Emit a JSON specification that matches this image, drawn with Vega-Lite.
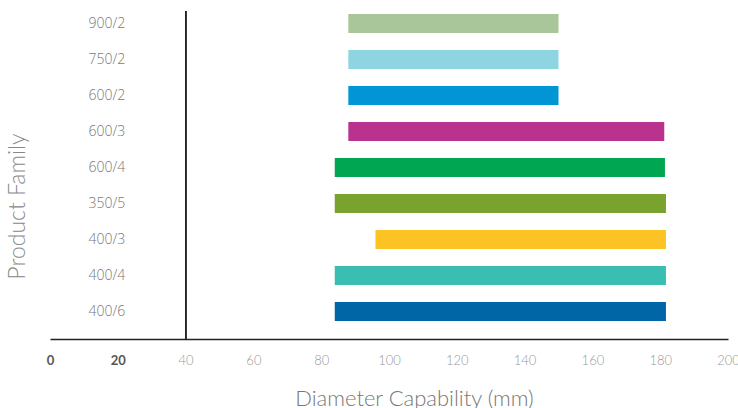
{
  "$schema": "https://vega.github.io/schema/vega-lite/v6.json",
  "autosize": "none",
  "width": 678,
  "height": 328,
  "padding": {"left": 50, "top": 11, "right": 10, "bottom": 69},
  "background": "white",
  "config": {"view": {"stroke": null}, "font": "Lato"},
  "data": {
    "values": [
      {"family": "900/2", "start": 88, "end": 150},
      {"family": "750/2", "start": 88, "end": 150},
      {"family": "600/2", "start": 88, "end": 150},
      {"family": "600/3", "start": 88, "end": 181.2},
      {"family": "600/4", "start": 84, "end": 181.4},
      {"family": "350/5", "start": 84, "end": 181.7},
      {"family": "400/3", "start": 96, "end": 181.7},
      {"family": "400/4", "start": 84, "end": 181.7},
      {"family": "400/6", "start": 84, "end": 181.7}
    ]
  },
  "layer": [
    {
      "mark": {"type": "rule", "color": "#222", "strokeWidth": 1.2},
      "encoding": {"x": {"datum": 40, "type": "quantitative"}}
    },
    {
      "mark": {"type": "bar"},
      "encoding": {
        "y": {
          "field": "family",
          "type": "nominal",
          "sort": null,
          "scale": {"paddingInner": 0.4722, "paddingOuter": 0.2917, "align": 0.143},
          "axis": {
            "title": "Product Family",
            "domain": false,
            "ticks": false,
            "tickSize": 0,
            "labelPadding": -38,
            "labelAlign": "left",
            "labelBaseline": "middle",
            "labelFont": "Open Sans",
            "labelFontSize": 14,
            "labelFontWeight": 300,
            "labelColor": "#777",
            "titleFontSize": 23,
            "titleFontWeight": 300,
            "titleColor": "#888",
            "titleX": -33,
            "titleY": 195,
            "titleAngle": 270,
            "titleAlign": "center",
            "titleBaseline": "middle"
          }
        },
        "x": {
          "field": "start",
          "type": "quantitative",
          "scale": {"domain": [0, 200], "nice": false, "zero": false},
          "axis": {
            "values": [0, 20, 40, 60, 80, 100, 120, 140, 160, 180, 200],
            "grid": false,
            "ticks": false,
            "tickSize": 0,
            "domainColor": "#222",
            "domainWidth": 1.5,
            "labelPadding": 15,
            "labelFontSize": 13,
            "labelFlush": false,
            "labelOverlap": false,
            "labelColor": {"condition": {"test": "datum.value <= 20", "value": "#555"}, "value": "#999"},
            "labelFontWeight": {"condition": {"test": "datum.value <= 20", "value": "bold"}, "value": 300},
            "title": "Diameter Capability (mm)",
            "titleFontSize": 22,
            "titleFontWeight": 300,
            "titleColor": "#777",
            "titleX": 364,
            "titleY": 66,
            "titleAlign": "center",
            "titleBaseline": "alphabetic"
          }
        },
        "x2": {"field": "end"},
        "color": {
          "field": "family",
          "type": "nominal",
          "legend": null,
          "scale": {
            "domain": ["900/2", "750/2", "600/2", "600/3", "600/4", "350/5", "400/3", "400/4", "400/6"],
            "range": ["#A9C69A", "#8DD5E0", "#0096D6", "#B9328E", "#00A651", "#7AA22F", "#FDC324", "#3ABEB1", "#0066A6"]
          }
        }
      }
    }
  ]
}
